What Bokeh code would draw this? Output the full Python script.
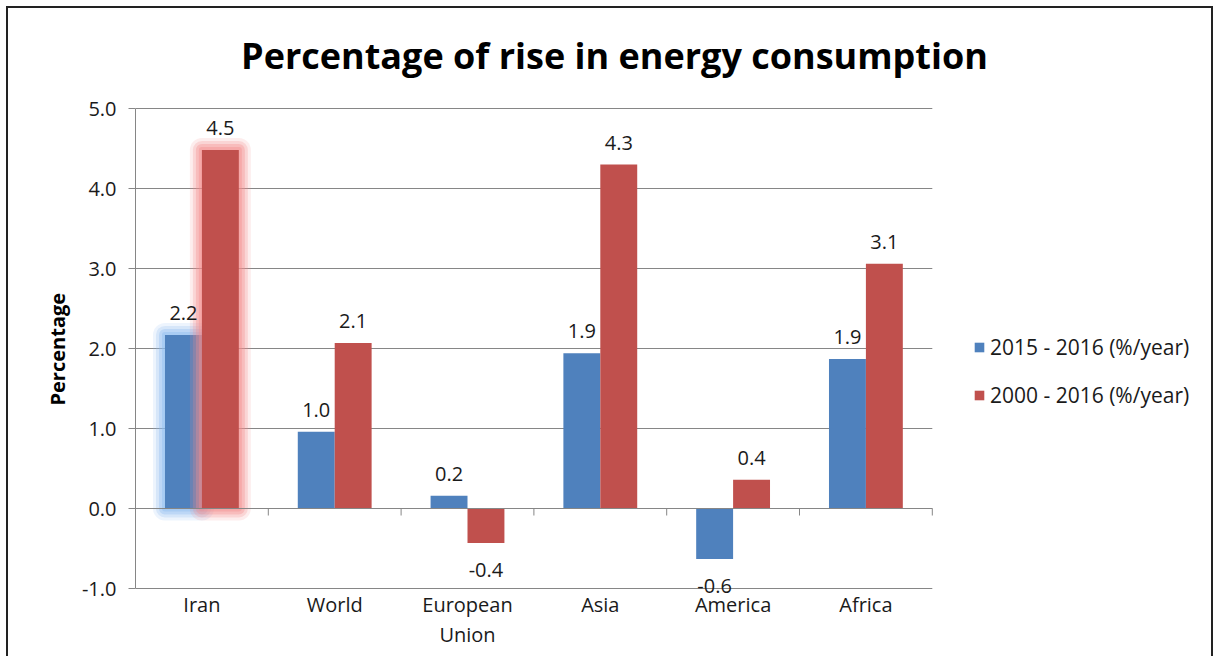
from bokeh.plotting import figure
from bokeh.models import Range1d, FixedTicker, Legend, LegendItem, Title
from bokeh.core.properties import value
from bokeh.embed import file_html
from bokeh.resources import INLINE

# ---------------- data ----------------
title_text = "Percentage of rise in energy consumption"
categories = ["Iran", "World", "European Union", "Asia", "America", "Africa"]
tick_labels = ["Iran", "World", "European\nUnion", "Asia", "America", "Africa"]
series_names = ["2015 - 2016 (%/year)", "2000 - 2016 (%/year)"]
rise_2015_2016 = [2.17, 0.96, 0.16, 1.94, -0.63, 1.87]
rise_2000_2016 = [4.48, 2.07, -0.43, 4.30, 0.36, 3.06]
y_ticks = [-1.0, 0.0, 1.0, 2.0, 3.0, 4.0, 5.0]
highlighted = ["Iran"]

# ---------------- style ----------------
FONT = "Open Sans"
FS = "20px"
BLUE = "#4F81BD"
RED = "#C0504D"
BLUE_GLOW = "#8DBBF0"
RED_GLOW = "#F28C8C"
GRID = "#868686"
TXT = "#1a1a1a"

W, H = 1207, 650
ML = 127
TOP_PAD = 100         # pixels between canvas top and the top gridline
PX_X = 132.8          # pixels per category
PX_Y = 80.0           # pixels per y unit
FW = W - ML
n = len(categories)
ymin, ymax = y_ticks[0], y_ticks[-1]
TITLE_CX = 606        # title centre, canvas pixels
TITLE_CY = 47

p = figure(width=W, height=H, output_backend="svg", toolbar_location=None, title=None,
           x_range=Range1d(0, FW / PX_X),
           y_range=Range1d(ymax - (H - TOP_PAD) / PX_Y, ymax + TOP_PAD / PX_Y),
           min_border_left=ML, min_border_right=0, min_border_top=0, min_border_bottom=0)
p.styles = {"margin-left": "6px", "margin-top": "6px",
            "border-top": "2px solid #222", "border-left": "2px solid #222",
            "border-right": "2px solid #222"}
p.outline_line_color = None
p.background_fill_color = "white"
p.border_fill_color = "white"

# y axis
yax = p.yaxis[0]
yax.ticker = FixedTicker(ticks=y_ticks)
yax.bounds = (ymin, ymax)
yax.major_label_overrides = {t: f"{t:.1f}" for t in y_ticks}
yax.minor_tick_line_color = None
yax.major_tick_in = 0
yax.major_tick_out = 7
yax.major_tick_line_color = GRID
yax.axis_line_color = GRID
yax.major_label_text_font = FONT
yax.major_label_text_font_size = FS
yax.major_label_text_color = TXT
yax.major_label_standoff = 12

# y axis title, centred on the -1..5 span
ytitle = Title(text="Percentage", align="left", offset=253, standoff=16,
               text_font=FONT, text_font_size=FS, text_font_style="bold", text_color="black")
p.add_layout(ytitle, "left")

p.xaxis.visible = False
p.xgrid.grid_line_color = None
p.ygrid.grid_line_color = None

# chart title
p.text(x=[(TITLE_CX - ML) / PX_X], y=[ymax], text=[title_text], y_offset=-(TOP_PAD - TITLE_CY),
       text_align="center", text_baseline="middle",
       text_font=value(FONT), text_font_size="36px", text_font_style="bold", text_color="black")

# gridlines over the category span
p.segment(x0=[0] * len(y_ticks), x1=[n] * len(y_ticks), y0=y_ticks, y1=y_ticks,
          line_color=GRID, line_width=1)

# bars
centers = [i + 0.5 for i in range(n)]
bar_w = 0.278
x_blue = [c - bar_w / 2 for c in centers]
x_red = [c + bar_w / 2 for c in centers]

def glow(xs, vals, color):
    idx = [categories.index(h) for h in highlighted]
    for ext, alpha in [(12, 0.16), (9, 0.24), (6, 0.34), (3, 0.4)]:
        dx = ext / PX_X
        dy = ext / PX_Y
        p.quad(left=[xs[i] - bar_w / 2 - dx for i in idx],
               right=[xs[i] + bar_w / 2 + dx for i in idx],
               top=[max(vals[i], 0) + dy for i in idx],
               bottom=[min(vals[i], 0) - dy for i in idx],
               fill_color=color, fill_alpha=alpha, line_color=None,
               border_radius=ext)

glow(x_blue, rise_2015_2016, BLUE_GLOW)
r_blue = p.vbar(x=x_blue, top=rise_2015_2016, bottom=0, width=bar_w,
                fill_color=BLUE, line_color=None)
glow(x_red, rise_2000_2016, RED_GLOW)
r_red = p.vbar(x=x_red, top=rise_2000_2016, bottom=0, width=bar_w,
               fill_color=RED, line_color=None)

# horizontal (zero) axis line with boundary ticks
bounds = list(range(n + 1))
p.segment(x0=[0], x1=[n], y0=[0], y1=[0], line_color=GRID, line_width=1)
p.segment(x0=bounds, y0=[0] * len(bounds), x1=bounds, y1=[-7 / PX_Y] * len(bounds),
          line_color=GRID, line_width=1)

# category labels below the bottom gridline
p.text(x=centers, y=[ymin] * n, text=tick_labels, text_align="center",
       text_baseline="top", y_offset=2, text_line_height=1.12,
       text_font=value(FONT), text_font_size=FS, text_color=TXT)

# data labels
for xs, vals in [(x_blue, rise_2015_2016), (x_red, rise_2000_2016)]:
    pos = [(x, v) for x, v in zip(xs, vals) if v >= 0]
    neg = [(x, v) for x, v in zip(xs, vals) if v < 0]
    if pos:
        p.text(x=[a for a, _ in pos], y=[b for _, b in pos], text=[f"{b:.1f}" for _, b in pos],
               text_align="center", text_baseline="alphabetic", y_offset=-22,
               text_font=value(FONT), text_font_size=FS, text_color=TXT)
    if neg:
        p.text(x=[a for a, _ in neg], y=[b for _, b in neg], text=[f"{b:.1f}" for _, b in neg],
               text_align="center", text_baseline="alphabetic", y_offset=27,
               text_font=value(FONT), text_font_size=FS, text_color=TXT)

# legend
legend = Legend(items=[LegendItem(label=series_names[0], renderers=[r_blue]),
                       LegendItem(label=series_names[1], renderers=[r_red])],
                location=(838, 249), orientation="vertical",
                glyph_width=12, glyph_height=12, label_standoff=5, label_height=23,
                label_text_font=FONT, label_text_font_size="21px", label_text_color=TXT,
                spacing=20, padding=0, margin=0,
                border_line_color=None, background_fill_alpha=0)
p.add_layout(legend, "center")

open("out.html", "w").write(file_html(p, INLINE))
